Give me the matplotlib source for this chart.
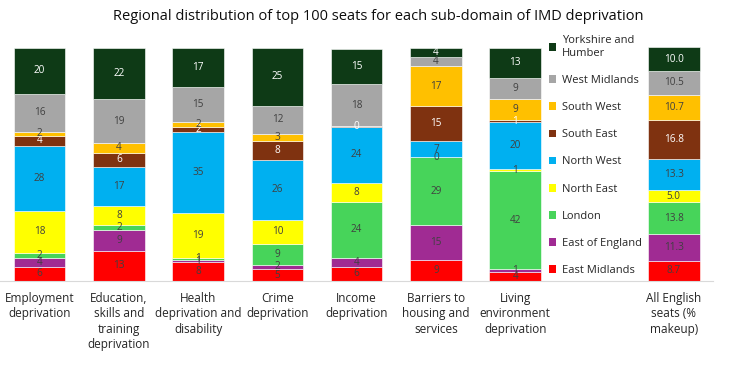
import numpy as np
import matplotlib.pyplot as plt
from matplotlib.patches import Patch

plt.rcParams['font.family'] = ['Open Sans', 'DejaVu Sans']

categories = ["Employment\ndeprivation", "Education,\nskills and\ntraining\ndeprivation",
              "Health\ndeprivation and\ndisability", "Crime\ndeprivation", "Income\ndeprivation",
              "Barriers to\nhousing and\nservices", "Living\nenvironment\ndeprivation",
              "All English\nseats (%\nmakeup)"]
positions = [0, 1, 2, 3, 4, 5, 6, 8]

regions = ["East Midlands", "East of England", "London", "North East", "North West",
           "South East", "South West", "West Midlands", "Yorkshire and\nHumber"]
colors = ["#FF0000", "#A02B93", "#47D45A", "#FFFF00", "#00B0F0",
          "#7F3210", "#FFC000", "#A6A6A6", "#0E3A16"]
text_colors = ["#404040"] * 5 + ["white", "#404040", "#404040", "white"]

east_midlands = [6, 13, 8, 5, 6, 9, 4, 8.7]
east_of_england = [4, 9, 1, 2, 4, 15, 1, 11.3]
london = [2, 2, 1, 9, 24, 29, 42, 13.8]
north_east = [18, 8, 19, 10, 8, 0, 1, 5.0]
north_west = [28, 17, 35, 26, 24, 7, 20, 13.3]
south_east = [4, 6, 2, 8, 0.4, 15, 1, 16.8]
south_west = [2, 4, 2, 3, 0, 17, 9, 10.7]
west_midlands = [16, 19, 15, 12, 18, 4, 9, 10.5]
yorkshire = [20, 22, 17, 25, 15, 4, 13, 10.0]

series = [east_midlands, east_of_england, london, north_east, north_west,
          south_east, south_west, west_midlands, yorkshire]

fig = plt.figure(figsize=(7.47, 3.72), dpi=100)
ax = fig.add_axes([0.0, 0.245, 0.955, 0.63])

bottom = np.zeros(len(positions))
for name, vals, col, tc in zip(regions, series, colors, text_colors):
    vals = np.array(vals, dtype=float)
    ax.bar(positions, vals, 0.65, bottom=bottom, color=col, edgecolor="white", linewidth=0.4)
    for j, (x, v) in enumerate(zip(positions, vals)):
        if j == 4 and name == "South West":
            continue
        label = f"{v:.1f}" if j == len(positions) - 1 else f"{v:.0f}"
        ax.text(x, bottom[j] + v / 2, label, ha="center", va="center", fontsize=7.2, color=tc)
    bottom += vals

ax.set_xlim(-0.5, 8.5)
ax.set_ylim(0, 100.5)
ax.set_yticks([])
ax.set_xticks(positions)
ax.set_xticklabels(categories, fontsize=8.5, color="#262626", linespacing=1.25)
ax.tick_params(axis="x", length=0, pad=8)
for s in ["top", "left", "right"]:
    ax.spines[s].set_visible(False)
ax.spines["bottom"].set_color("#d9d9d9")

handles = [Patch(facecolor=c, label=r) for r, c in zip(regions, colors)][::-1]
ax.legend(handles=handles, loc="upper left", bbox_to_anchor=(0.755, 1.09), frameon=False,
          fontsize=8, handlelength=0.7, handleheight=0.7, handletextpad=0.5,
          labelspacing=1.45, labelcolor="#262626")

fig.suptitle("Regional distribution of top 100 seats for each sub-domain of IMD deprivation",
             x=0.507, y=0.975, fontsize=10.5, color="#0d0d0d")

fig.savefig("out.png", dpi=100)
